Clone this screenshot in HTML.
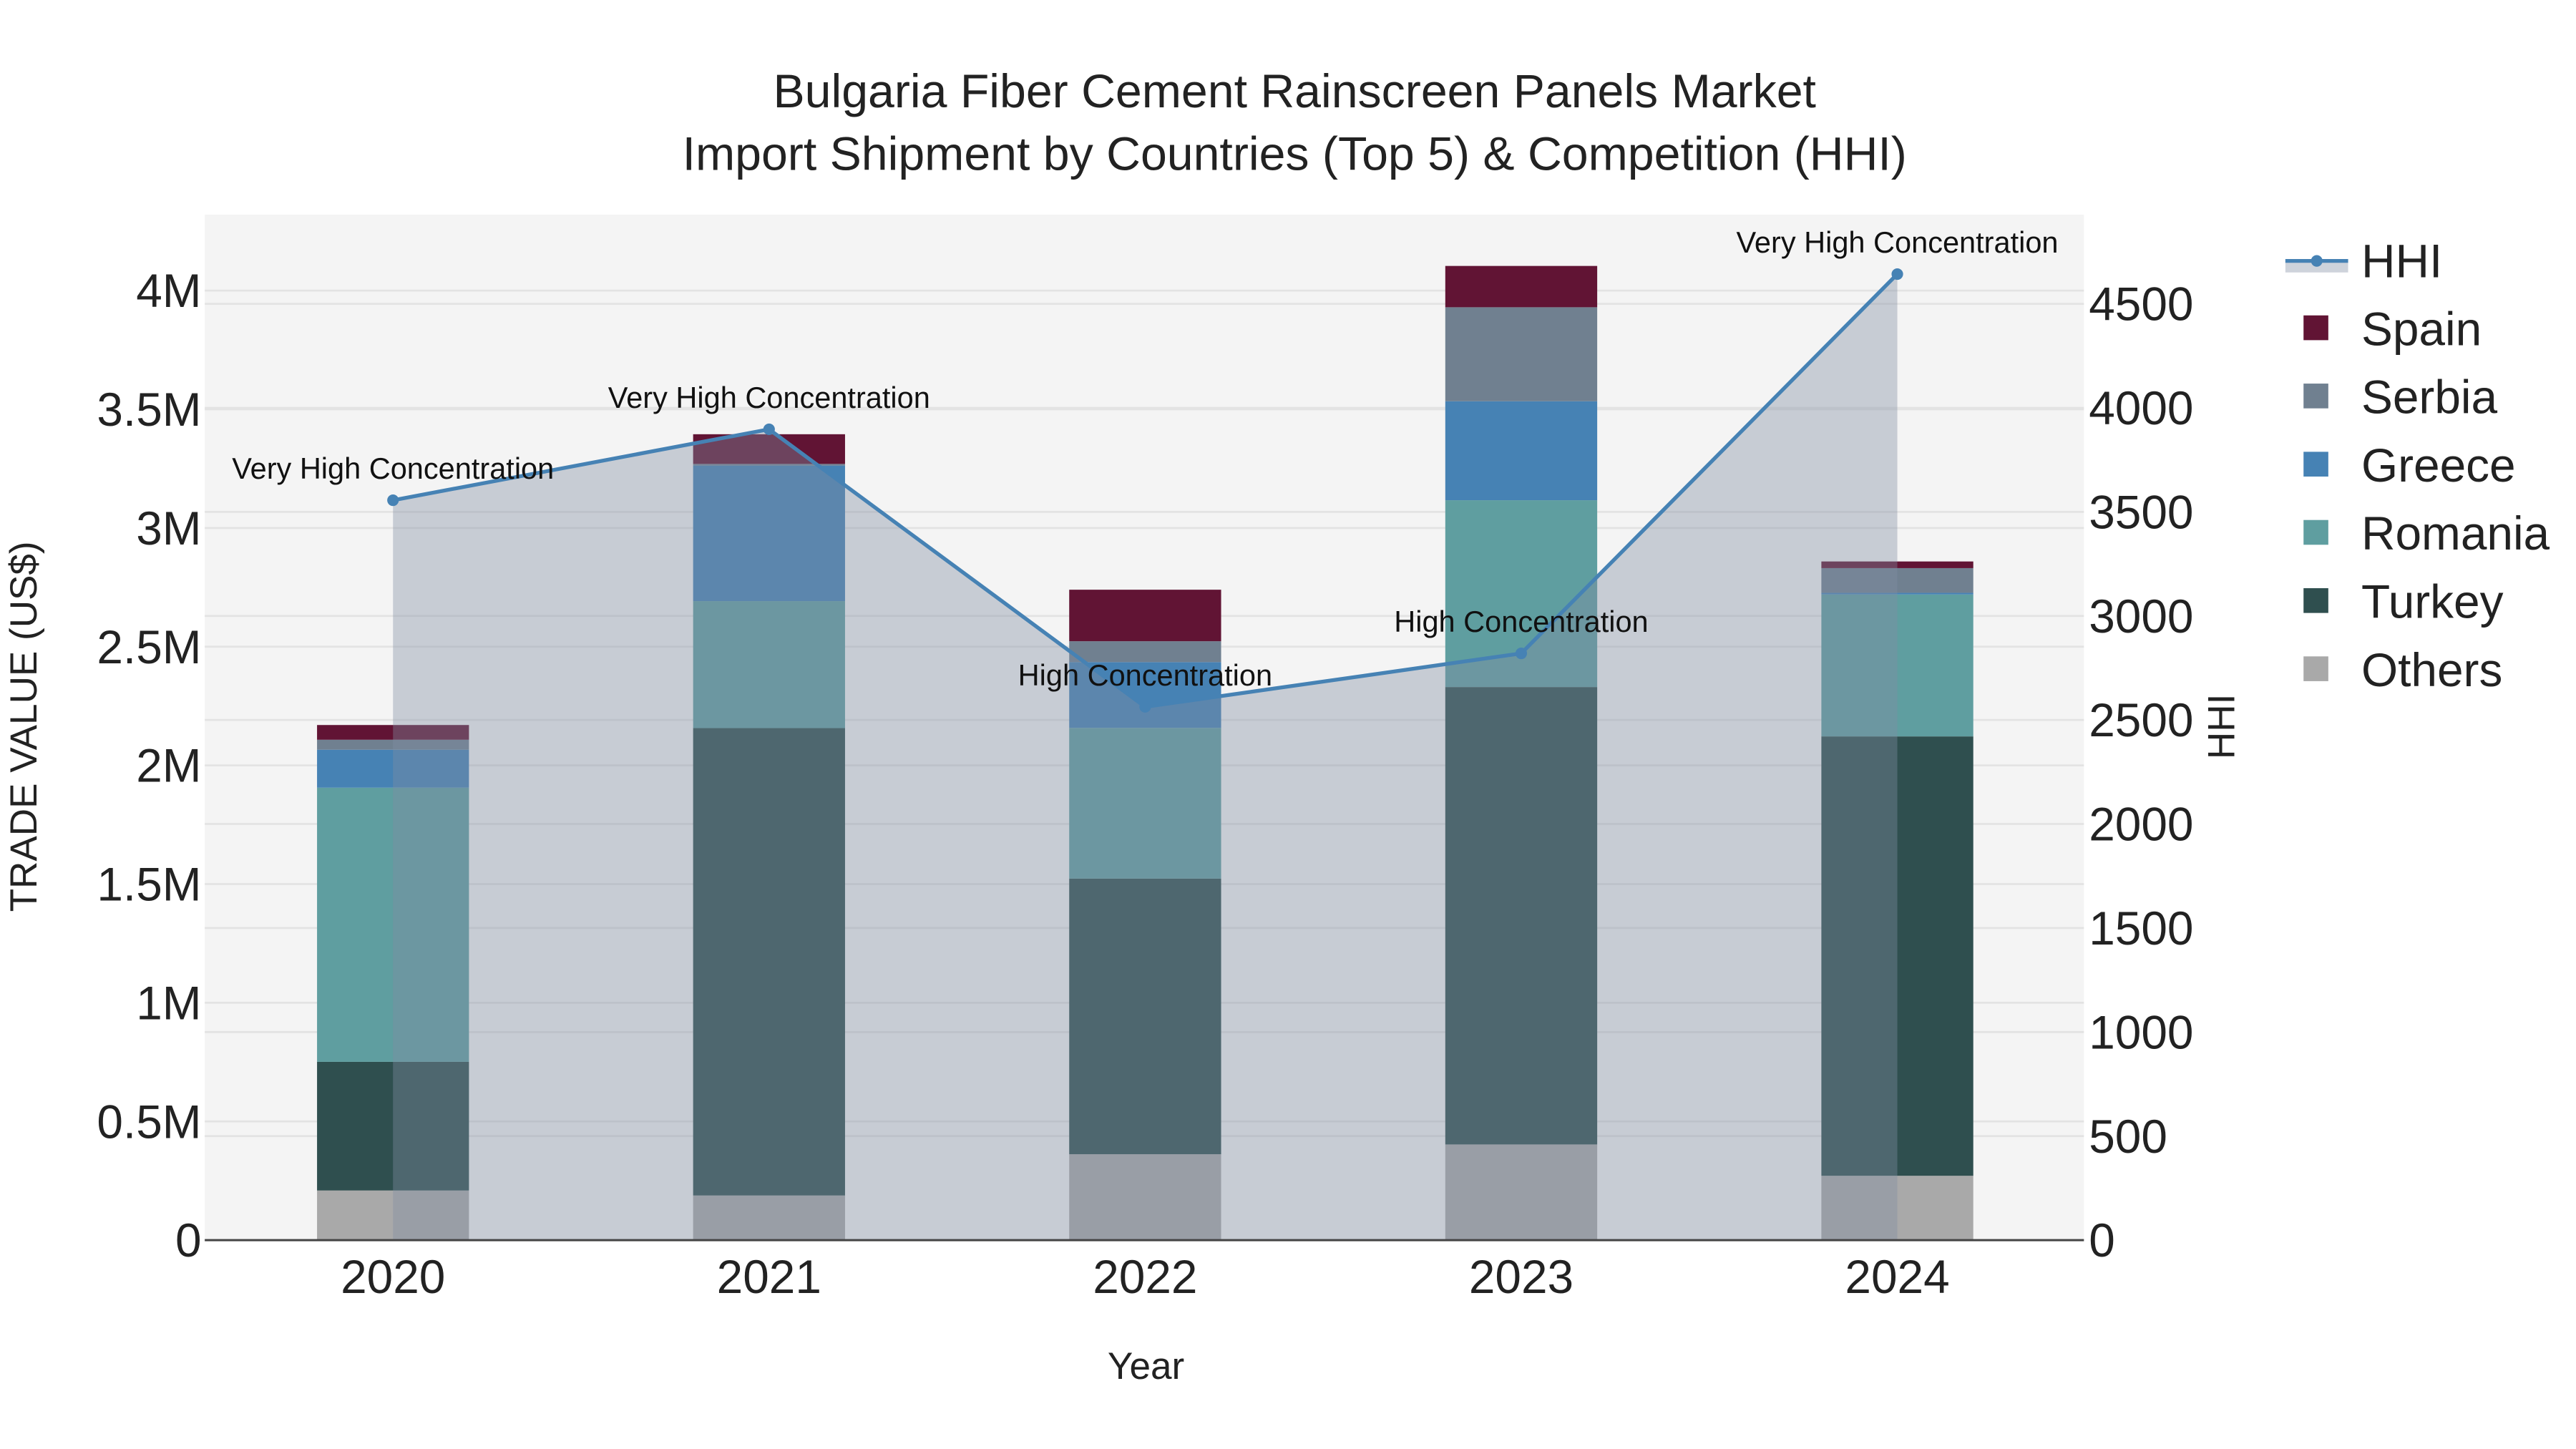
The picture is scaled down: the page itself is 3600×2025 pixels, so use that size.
<!DOCTYPE html>
<html><head><meta charset="utf-8">
<style>
html,body{margin:0;padding:0;background:#fff;}
svg{display:block;font-family:"Liberation Sans",Arial,sans-serif;}
</style></head>
<body>
<svg id="chart" width="3600" height="2025" viewBox="0 0 1560 877.5" xmlns="http://www.w3.org/2000/svg">
  <rect x="0" y="0" width="1560" height="877.5" fill="#ffffff"/>
  <rect x="124" y="130" width="1138" height="621" fill="#f4f4f4"/>
  <g id="grid"></g>
  <g id="bars"></g>
  <g id="area"></g>
  <g id="line"></g>
  <g id="annots"></g>
  <g id="axes"></g>
  <text x="784" y="65" text-anchor="middle" font-size="28.7" fill="#222">Bulgaria Fiber Cement Rainscreen Panels Market</text>
  <text x="784" y="103" text-anchor="middle" font-size="28.7" fill="#222">Import Shipment by Countries (Top 5) &amp; Competition (HHI)</text>
  <text x="694" y="835" text-anchor="middle" font-size="23" fill="#222">Year</text>
  <text transform="translate(22,440) rotate(-90)" text-anchor="middle" font-size="23" fill="#222">TRADE VALUE (US$)</text>
  <text transform="translate(1353,440) rotate(-90)" text-anchor="middle" font-size="23" fill="#222">HHI</text>
  <g id="legend"></g>
</svg>
<script>
const years = ["2020","2021","2022","2023","2024"];
const seriesNames = ["Others","Turkey","Romania","Greece","Serbia","Spain"];
const others  = [0.209, 0.188, 0.362, 0.403, 0.271];
const turkey  = [0.542, 1.969, 1.161, 1.927, 1.851];
const romania = [1.155, 0.535, 0.635, 0.787, 0.598];
const greece  = [0.160, 0.571, 0.277, 0.417, 0.007];
const serbia  = [0.042, 0.007, 0.088, 0.396, 0.104];
const spain   = [0.062, 0.125, 0.217, 0.174, 0.028];
const hhi = [3556, 3897, 2563, 2820, 4643];
const hhiLabels = ["Very High Concentration","Very High Concentration","High Concentration","High Concentration","Very High Concentration"];
const yTicks = [0,0.5,1,1.5,2,2.5,3,3.5,4];
const yTickLabels = ["0","0.5M","1M","1.5M","2M","2.5M","3M","3.5M","4M"];
const y2Ticks = [0,500,1000,1500,2000,2500,3000,3500,4000,4500];

const colors = {Others:"#a9a9a9",Turkey:"#2f4f4f",Romania:"#5f9ea0",Greece:"#4682b4",Serbia:"#708090",Spain:"#611434"};
const seriesData = [others,turkey,romania,greece,serbia,spain];
const NS="http://www.w3.org/2000/svg";
const X0=124,X1=1262,Y0=751,YT=130;
const xScale = i => 238 + i*227.75;
const yScale = v => Y0 - v*143.75;      // millions
const y2Scale = v => Y0 - v*0.126;       // HHI
const BW=92;
function mk(tag,attrs,parent){const e=document.createElementNS(NS,tag);for(const k in attrs)e.setAttribute(k,attrs[k]);parent.appendChild(e);return e;}

const grid=document.getElementById('grid');
yTicks.forEach(t=>{const l=mk('line',{x1:X0,x2:X1,y1:yScale(t),y2:yScale(t),stroke:"#e3e3e3","stroke-width":1.2},grid);

});
y2Ticks.forEach(t=>{const l=mk('line',{x1:X0,x2:X1,y1:y2Scale(t),y2:y2Scale(t),stroke:"#e3e3e3","stroke-width":1.2},grid);

});

const bars=document.getElementById('bars');
years.forEach((yr,i)=>{let base=0;
  seriesData.forEach((arr,s)=>{const v=arr[i];
    const r=mk('rect',{x:xScale(i)-BW/2,y:yScale(base+v),width:BW,height:Math.max(0,yScale(base)-yScale(base+v)),fill:colors[seriesNames[s]]},bars);
    
    
    base+=v;});
});

const area=document.getElementById('area');
let d="M"+xScale(0)+","+Y0;
hhi.forEach((v,i)=>{d+=" L"+xScale(i)+","+y2Scale(v);});
d+=" L"+xScale(hhi.length-1)+","+Y0+" Z";
const ap=mk('path',{d:d,fill:"rgba(130,141,161,0.39)"},area);



const line=document.getElementById('line');
const pts=hhi.map((v,i)=>xScale(i)+","+y2Scale(v)).join(" ");
const pl=mk('polyline',{points:pts,fill:"none",stroke:"#4682b4","stroke-width":2.3},line);


hhi.forEach((v,i)=>{const c=mk('circle',{cx:xScale(i),cy:y2Scale(v),r:3.5,fill:"#4682b4"},line);

});

const an=document.getElementById('annots');
hhi.forEach((v,i)=>{const t=mk('text',{x:xScale(i),y:y2Scale(v)-13,"text-anchor":"middle","font-size":18,fill:"#111"},an);
t.textContent=hhiLabels[i];

});

const ax=document.getElementById('axes');
const bl=mk('line',{x1:X0,x2:X1,y1:Y0,y2:Y0,stroke:"#444","stroke-width":1.3},ax);


yTicks.forEach((t,i)=>{const e=mk('text',{x:122,y:yScale(t)+10,"text-anchor":"end","font-size":28.5,fill:"#222"},ax);
e.textContent=yTickLabels[i];

});
y2Ticks.forEach(t=>{const e=mk('text',{x:1265,y:y2Scale(t)+10,"text-anchor":"start","font-size":28.5,fill:"#222"},ax);
e.textContent=String(t);

});
years.forEach((yr,i)=>{const e=mk('text',{x:xScale(i),y:783,"text-anchor":"middle","font-size":28.5,fill:"#222"},ax);
e.textContent=yr;

});

const lg=document.getElementById('legend');
const g0=mk('g',{},lg);


mk('rect',{x:1384,y:157,width:38,height:8,fill:"rgba(130,141,161,0.39)"},g0);
mk('line',{x1:1384,x2:1422,y1:158,y2:158,stroke:"#4682b4","stroke-width":2.3},g0);
mk('circle',{cx:1403,cy:158,r:3.5,fill:"#4682b4"},g0);
const ht=mk('text',{x:1430,y:168,"font-size":28.5,fill:"#222"},g0);ht.textContent="HHI";
["Spain","Serbia","Greece","Romania","Turkey","Others"].forEach((n,k)=>{const cy=199+k*41.3;
  const g=mk('g',{},lg);
  
  
  mk('rect',{x:1395,y:cy-8,width:15,height:15,fill:colors[n]},g);
  const t=mk('text',{x:1430,y:cy+10,"font-size":28.5,fill:"#222"},g);t.textContent=n;});
</script>
</body></html>
